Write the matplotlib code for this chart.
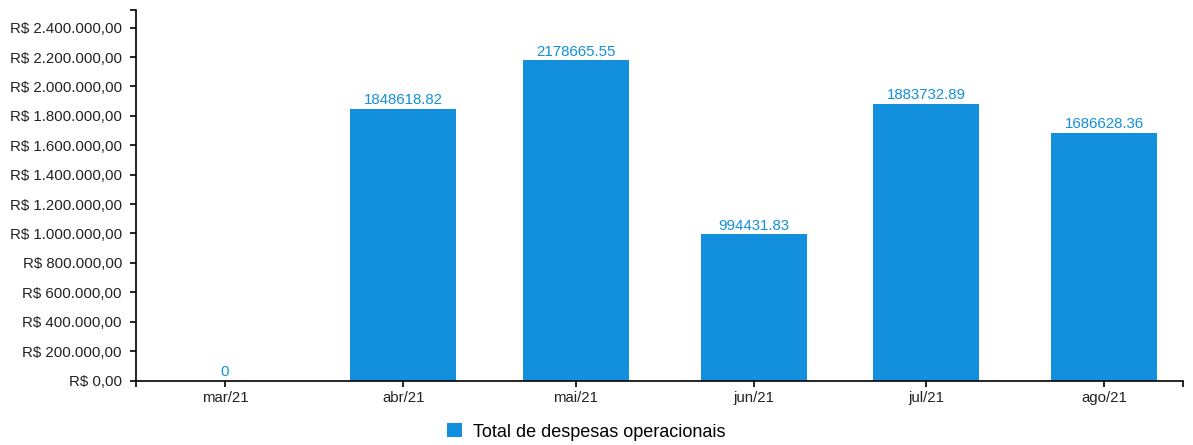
import matplotlib
matplotlib.use('Agg')
import matplotlib.pyplot as plt
import matplotlib.dates as mdates
from matplotlib.ticker import FuncFormatter
from datetime import datetime, timedelta

datas = ['2021-03-01', '2021-04-01', '2021-05-01', '2021-06-01', '2021-07-01', '2021-08-01']
meses = ['mar/21', 'abr/21', 'mai/21', 'jun/21', 'jul/21', 'ago/21']
despesas = [0, 1848618.82, 2178665.55, 994431.83, 1883732.89, 1686628.36]
yticks = [0, 200000, 400000, 600000, 800000, 1000000, 1200000, 1400000,
          1600000, 1800000, 2000000, 2200000, 2400000]

cor = '#128fdd'
plt.rcParams['font.family'] = ['Liberation Sans', 'DejaVu Sans']

def reais(v, pos=None):
    s = '{:,.2f}'.format(v)                     # 2,400,000.00
    s = s.replace(',', '#').replace('.', ',').replace('#', '.')
    return 'R$ ' + s

def rotulo(v):
    return ('%.2f' % v).rstrip('0').rstrip('.')

x = [mdates.date2num(datetime.strptime(d, '%Y-%m-%d')) for d in datas]

fig = plt.figure(figsize=(11.93, 4.45), dpi=100)
ax = fig.add_axes([136/1193, 1-380.5/445, (1183-136)/1193, (380.5-10)/445])

barras = ax.bar(x, despesas, width=18.45, color=cor, label='Total de despesas operacionais')
ax.bar_label(barras, labels=[rotulo(v) for v in despesas], padding=1, color=cor, fontsize=10.8)

x0 = x[0] - 15.5
x1 = x[-1] + 13.7
ax.set_xlim(x0, x1)
ax.set_ylim(0, 2520000)
ax.set_xticks(x)
ax.set_xticklabels(meses)
ax.set_yticks(yticks)
ax.yaxis.set_major_formatter(FuncFormatter(reais))

# ticks nas pontas do eixo (estilo d3)
ax.set_xticks([x0, x1], minor=True)
ax.set_yticks([2520000], minor=True)

for s in ['top', 'right']:
    ax.spines[s].set_visible(False)
for s in ['left', 'bottom']:
    ax.spines[s].set_linewidth(1.2)
    ax.spines[s].set_color('black')

ax.tick_params(axis='both', which='both', length=4.3, width=1.2, color='black')
ax.tick_params(axis='y', which='major', pad=5.8, labelsize=10.8, labelcolor='#222222')
ax.tick_params(axis='x', which='major', pad=3.6, labelsize=10.8, labelcolor='#222222')

fig.legend(loc='center', bbox_to_anchor=(586/1193, 1-432/445), frameon=False,
           fontsize=13, handlelength=0.83, handleheight=0.83, handletextpad=0.6)

plt.savefig('out.png', dpi=100)
